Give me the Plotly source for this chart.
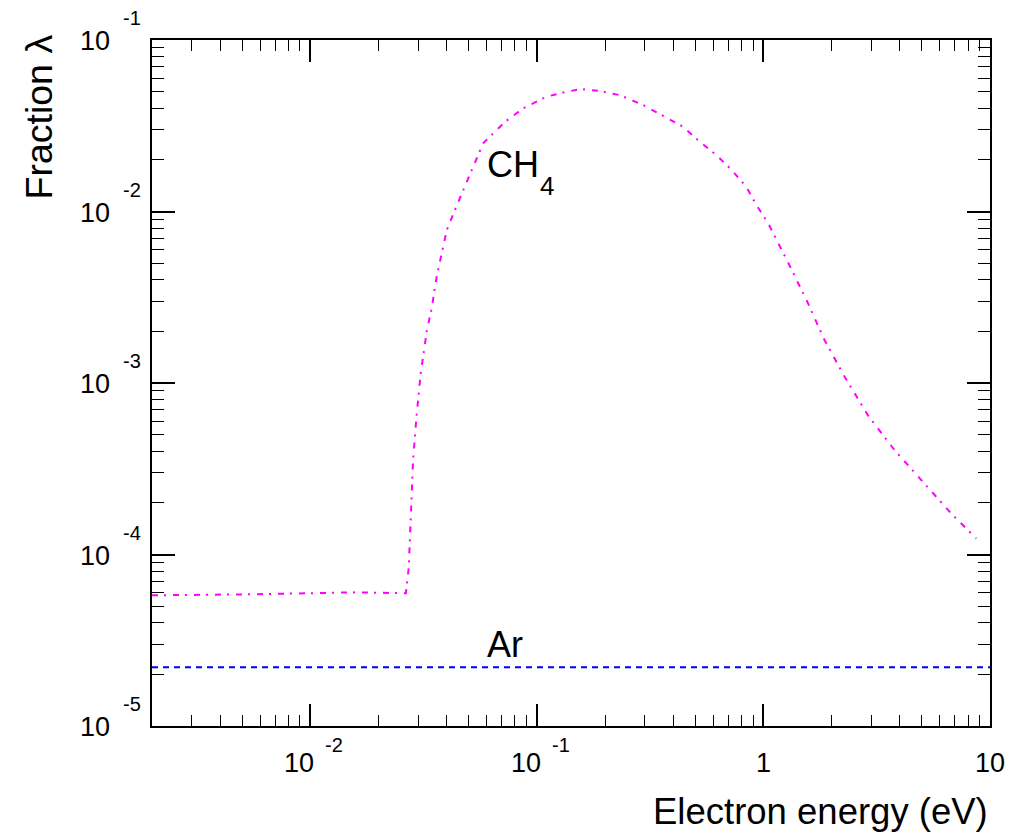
import numpy as np
import plotly.graph_objects as go

# Electron energy (eV) and fraction lambda for CH4
ch4_energy = [0.0020, 0.0054, 0.0161, 0.0264, 0.0272, 0.0280, 0.0284, 0.0294,
              0.0307, 0.0327, 0.0343, 0.0361, 0.0380, 0.0400, 0.0445, 0.0486,
              0.0528, 0.0579, 0.0620, 0.0723, 0.0871, 0.110, 0.135, 0.157,
              0.190, 0.232, 0.294, 0.379, 0.442, 0.523, 0.621, 0.723, 0.841,
              0.931, 1.05, 1.28, 1.55, 1.86, 2.28, 2.89, 3.79, 5.06, 6.75, 8.70]
ch4_fraction = [5.78e-5, 5.86e-5, 6.02e-5, 5.94e-5, 8.45e-5, 1.99e-4, 3.55e-4, 6.34e-4,
                1.14e-3, 2.03e-3, 2.71e-3, 4.16e-3, 5.72e-3, 7.79e-3, 1.10e-2, 1.45e-2,
                1.87e-2, 2.50e-2, 2.73e-2, 3.33e-2, 4.00e-2, 4.67e-2, 4.99e-2, 5.18e-2,
                5.04e-2, 4.77e-2, 4.18e-2, 3.46e-2, 3.12e-2, 2.55e-2, 2.13e-2, 1.75e-2, 1.39e-2,
                1.09e-2, 8.52e-3, 5.09e-3, 3.04e-3, 1.78e-3, 1.09e-3, 6.49e-4, 4.06e-4, 2.65e-4, 1.73e-4, 1.24e-4]

# Argon: constant fraction over the whole energy range
ar_energy = [0.002, 10.0]
ar_fraction = [2.2e-5, 2.2e-5]

# Axis ranges
x_min, x_max = 0.002, 10.0
y_min, y_max = 1e-5, 1e-1

# Major tick values and their labels (base, exponent)
x_major = [0.01, 0.1, 1.0, 10.0]
x_base = ["10", "10", "1", "10"]
x_exp = ["-2", "-1", "", ""]
y_major = [1e-5, 1e-4, 1e-3, 1e-2, 1e-1]
y_base = ["10", "10", "10", "10", "10"]
y_exp = ["-5", "-4", "-3", "-2", "-1"]

# Curve labels
label_text = ["CH", "Ar"]
label_sub = ["4", ""]
label_x = [0.060, 0.060]
label_y = [1.87e-2, 3.0e-5]

x_title = "Electron energy (eV)"
y_title = "Fraction λ"

FONT = "Liberation Sans, Arial, Helvetica, sans-serif"


def minor_vals(lo, hi):
    vals = []
    for e in range(int(np.floor(np.log10(lo))), int(np.ceil(np.log10(hi))) + 1):
        for k in range(2, 10):
            v = k * 10.0 ** e
            if lo < v < hi:
                vals.append(v)
    return vals


fig = go.Figure()
fig.add_trace(go.Scatter(
    x=ch4_energy, y=ch4_fraction, mode="lines",
    line=dict(color="#ff00ff", width=2, dash="6px,6px,2px,7px"),
    showlegend=False, hoverinfo="skip"))
fig.add_trace(go.Scatter(
    x=ar_energy, y=ar_fraction, mode="lines",
    line=dict(color="#0000ff", width=2, dash="6px,5px"),
    showlegend=False, hoverinfo="skip"))

axis_common = dict(
    type="log", showgrid=False, zeroline=False,
    showline=True, linecolor="black", linewidth=2, mirror="ticks",
    ticks="inside", tickcolor="black", tickwidth=1.5,
    showticklabels=False,
)

fig.update_xaxes(
    **axis_common,
    range=[np.log10(x_min), np.log10(x_max)],
    tickvals=x_major, ticklen=22,
    minor=dict(tickvals=minor_vals(x_min, x_max), ticks="inside", ticklen=11,
               tickcolor="black", tickwidth=1, showgrid=False),
)
fig.update_yaxes(
    **axis_common,
    range=[np.log10(y_min), np.log10(y_max)],
    tickvals=y_major, ticklen=23,
    minor=dict(tickvals=minor_vals(y_min, y_max), ticks="inside", ticklen=12,
               tickcolor="black", tickwidth=1, showgrid=False),
)

ann = []
# x tick labels
for v, b, e in zip(x_major, x_base, x_exp):
    lx = np.log10(v)
    if e:
        ann.append(dict(x=lx, xref="x", y=0, yref="paper", text=b, showarrow=False,
                        xanchor="right", yanchor="middle", xshift=6, yshift=-37,
                        font=dict(family=FONT, size=27, color="black")))
        ann.append(dict(x=lx, xref="x", y=0, yref="paper", text=e, showarrow=False,
                        xanchor="left", yanchor="middle", xshift=13, yshift=-19,
                        font=dict(family=FONT, size=20, color="black")))
    else:
        ann.append(dict(x=lx, xref="x", y=0, yref="paper", text=b, showarrow=False,
                        xanchor="center", yanchor="middle", yshift=-37,
                        font=dict(family=FONT, size=27, color="black")))
# y tick labels
for v, b, e in zip(y_major, y_base, y_exp):
    ly = np.log10(v)
    ann.append(dict(x=0, xref="paper", y=ly, yref="y", text=b, showarrow=False,
                    xanchor="right", yanchor="middle", xshift=-40, yshift=-1,
                    font=dict(family=FONT, size=27, color="black")))
    ann.append(dict(x=0, xref="paper", y=ly, yref="y", text=e, showarrow=False,
                    xanchor="left", yanchor="middle", xshift=-31, yshift=22,
                    font=dict(family=FONT, size=20, color="black")))

# curve labels
for t, s, lx, ly in zip(label_text, label_sub, label_x, label_y):
    ann.append(dict(x=np.log10(lx), xref="x", y=np.log10(ly), yref="y", text=t,
                    showarrow=False, xanchor="left", yanchor="middle", xshift=-2,
                    font=dict(family=FONT, size=36, color="black")))
    if s:
        ann.append(dict(x=np.log10(lx), xref="x", y=np.log10(ly), yref="y", text=s,
                        showarrow=False, xanchor="left", yanchor="middle",
                        xshift=51, yshift=-21,
                        font=dict(family=FONT, size=26, color="black")))

# axis titles
ann.append(dict(x=1, xref="paper", y=0, yref="paper", text=x_title, showarrow=False,
                xanchor="right", yanchor="middle", xshift=0, yshift=-85,
                font=dict(family=FONT, size=36.5, color="black")))
ann.append(dict(x=0, xref="paper", y=1, yref="paper", text=y_title, showarrow=False,
                textangle=-90, xanchor="center", yanchor="top", xshift=-114, yshift=7,
                font=dict(family=FONT, size=37.5, color="black")))

fig.update_layout(
    width=1022, height=833,
    margin=dict(l=152, r=32, t=40, b=107),
    paper_bgcolor="white", plot_bgcolor="white",
    annotations=ann,
    showlegend=False,
)

fig.write_html("out.html")
